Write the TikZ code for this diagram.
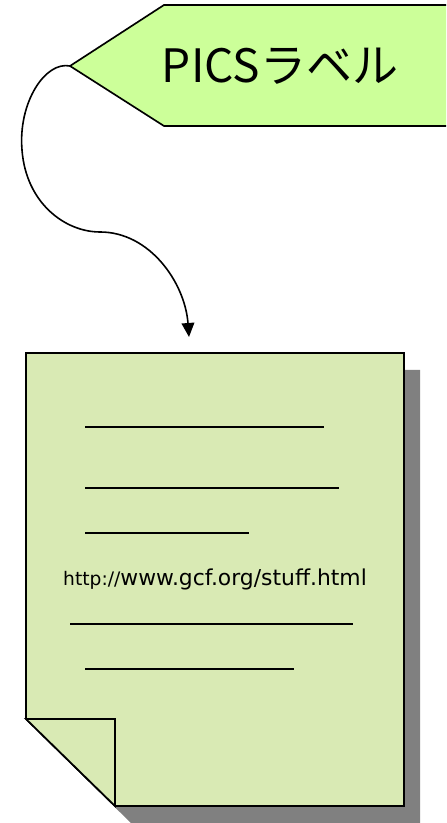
\documentclass[tikz,border=0pt]{standalone}
\usepackage{fontspec}
\setmainfont{Noto Sans CJK JP}
\newfontfamily\urlfont{DejaVu Sans}
\usepackage{xcolor}
\usetikzlibrary{arrows.meta,positioning,calc}

\definecolor{labelgreen}{HTML}{CCFF99}
\definecolor{pagegreen}{HTML}{D9EAB4}
\definecolor{shadowgray}{HTML}{808080}

\begin{document}
\begin{tikzpicture}[x=0.75pt, y=0.75pt,
    outline/.style={draw=black, line width=1.25pt, line join=miter},
    textline/.style={line width=1.4pt}]
    \useasboundingbox (0, 0) rectangle (446, 823);

    % label
    \begin{scope}
    \clip (0, 0) rectangle (446, 823);
    \draw[outline, fill=labelgreen] (70, 757) -- (164, 818) -- (460, 818) -- (460, 697) -- (164, 697) -- cycle;
    \end{scope}
    \coordinate (tip) at (70, 757);
    \node (label) at (280, 757) {\fontsize{34.5}{40}\selectfont PICSラベル};

    % page with shadow
    \fill[shadowgray] (42, 453) -- (420, 453) -- (420, 0) -- (131, 0) -- (42, 87) -- cycle;
    \draw[outline, fill=pagegreen] (26, 470) -- (404, 470) -- (404, 17) -- (115, 17) -- (26, 104) -- cycle;
    \draw[outline, fill=pagegreen] (26, 104) -- (115, 104) -- (115, 17) -- cycle;
    \coordinate (pagetop) at (189, 486);

    \draw[textline] (85, 396) -- (324, 396);
    \draw[textline] (85, 335) -- (339, 335);
    \draw[textline] (85, 290) -- (249, 290);
    \node[font=\urlfont] (url) at (215, 244) {\fontsize{14}{16}\selectfont http://\fontsize{16.4}{18}\selectfont www.gcf.org/stuff.html};
    \draw[textline] (70, 199) -- (353, 199);
    \draw[textline] (85, 154) -- (294, 154);

    % link
    \draw[line width=1.2pt, -{Triangle[width=9.5pt, length=10.5pt]}] (tip) .. controls (45, 762) and (18, 720) .. (22, 673)
        .. controls (26, 620) and (65, 591) .. (100, 591)
        .. controls (150, 591) and (185, 540) .. (pagetop);
\end{tikzpicture}
\end{document}
